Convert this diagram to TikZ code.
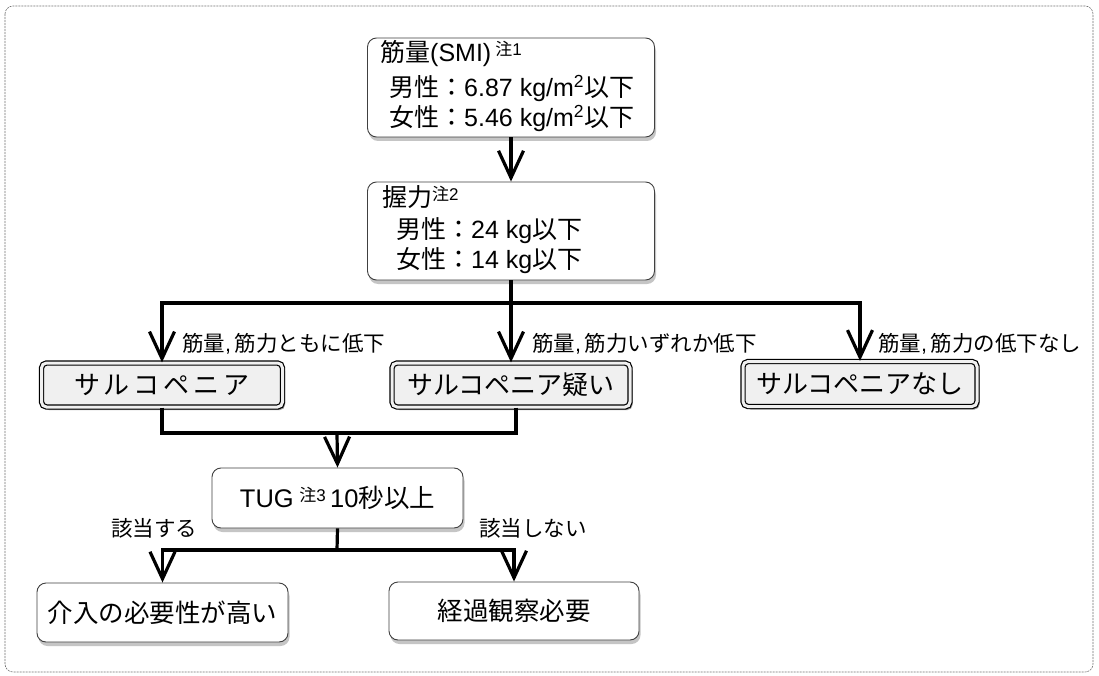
\documentclass[tikz,border=0pt]{standalone}
\usepackage{fontspec}
\setmainfont{Noto Sans CJK JP}
\newfontfamily\latf{Liberation Sans}
\usetikzlibrary{arrows.meta,shadows}
\newcommand\mynote[1]{\raisebox{6pt}{\fontsize{17}{17}\selectfont 注{\latf #1}}}
\newcommand\lt[1]{{\latf #1}}
\tikzset{
  rbox/.style={draw=black!75, line width=0.9pt, rounded corners=9pt, fill=white, inner sep=0pt,
    drop shadow={shadow xshift=1.5pt, shadow yshift=-4pt, fill=black!45}},
  dbox/.style={draw=black, line width=1.2pt, double=gray!12, double distance=3pt, rounded corners=5pt,
    fill=gray!12, inner sep=0pt, font=\fontsize{26}{30}\selectfont,
    drop shadow={shadow xshift=2.5pt, shadow yshift=-3pt, fill=black!80}},
  cline/.style={line width=3.2pt, line join=miter},
  carrow/.style={cline, -{Straight Barb[length=27pt,width=25pt,line width=3.2pt]}},
  lab/.style={font=\fontsize{21.5}{24}\selectfont, inner sep=0pt},
  txt/.style={font=\fontsize{25}{30}\selectfont, inner sep=0pt, anchor=base west},
  btxt/.style={font=\fontsize{25.5}{30}\selectfont},
}
\begin{document}
\begin{tikzpicture}[x=1pt,y=-1pt]
\useasboundingbox (0,0) rectangle (1099,676);
\fill[white] (0,0) rectangle (1099,676);
\draw[black!55, line width=0.6pt, dash pattern=on 2pt off 1pt, rounded corners=8pt] (5,6) rectangle (1093,672);

% top boxes
\node[rbox, minimum width=287pt, minimum height=99pt] (smi) at (511,87.5) {};
\node[txt] (smi1) at (380,62) {筋量\lt{(SMI)}\,\mynote{1}};
\node[txt] (smi2) at (389,97) {男性：\lt{6.87 kg/m\textsuperscript{2}}以下};
\node[txt] (smi3) at (389,127) {女性：\lt{5.46 kg/m\textsuperscript{2}}以下};

\node[rbox, minimum width=287pt, minimum height=98pt] (grip) at (511,231) {};
\node[txt] (g1) at (382,207) {握力\mynote{2}};
\node[txt] (g2) at (396,239) {男性：\lt{24 kg}以下};
\node[txt] (g3) at (396,268) {女性：\lt{14 kg}以下};

\draw[carrow] (smi.south) -- (grip.north);

% three results
\node[dbox, minimum width=241pt, minimum height=44pt] (b1) at (162,385) {サ\hspace{4pt}ル\hspace{4pt}コ\hspace{4pt}ペ\hspace{4pt}ニ\hspace{4pt}ア};
\node[dbox, minimum width=238pt, minimum height=44pt] (b2) at (511,385) {サルコペニア疑い};
\node[dbox, minimum width=234pt, minimum height=45pt] (b3) at (860,384) {サルコペニアなし};

\coordinate (split) at (511,303);
\draw[cline] (grip.south) -- (split);
\draw[carrow] (split) -| (b1.north);
\draw[carrow] (split) -- (b2.north);
\draw[carrow] (split) -| (b3.north);

\node[lab, anchor=west] (l1) at (182,344) {筋量\lt{,}\,筋力ともに低下};
\node[lab, anchor=west] (l2) at (532,344) {筋量\lt{,}\,筋力いずれか低下};
\node[lab, anchor=west] (l3) at (878,344) {筋量\lt{,}\,筋力の低下なし};

% TUG
\node[rbox, minimum width=251pt, minimum height=60pt, btxt] (tug) at (337.5,498) {\lt{TUG} \mynote{3}\,\lt{10}秒以上};
\coordinate (m) at (337,433);
\draw[cline] (b1.south) |- (m);
\draw[cline] ([xshift=5pt]b2.south) |- (m);
\draw[carrow] (m) -- (tug.north);

% final
\node[rbox, minimum width=251pt, minimum height=59pt, btxt] (r1) at (162.5,612.5) {介入の必要性が高い};
\node[rbox, minimum width=250pt, minimum height=58pt, btxt] (r2) at (514,611) {経過観察必要};
\coordinate (s2) at (337,550);
\draw[cline] (tug.south) -- (s2);
\draw[carrow] (s2) -| (r1.north);
\draw[carrow] (s2) -| (r2.north);

\node[lab] (y1) at (154,528) {該当する};
\node[lab] (y2) at (533,528) {該当しない};
\end{tikzpicture}
\end{document}
